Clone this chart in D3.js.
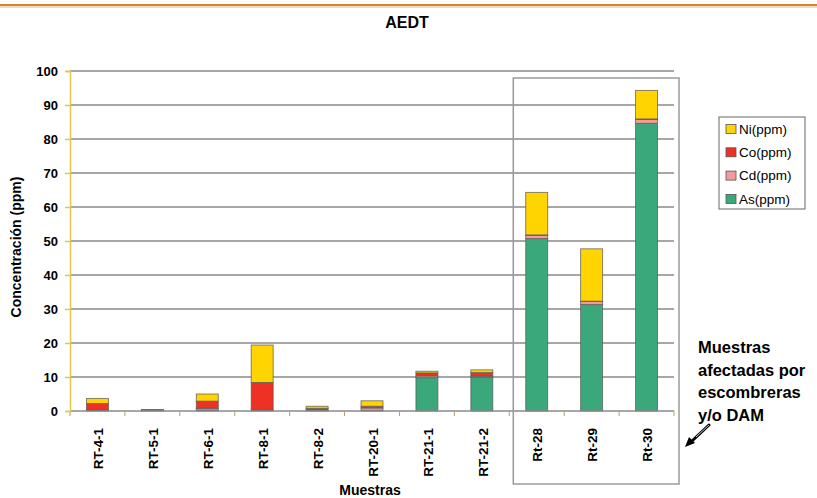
<!DOCTYPE html>
<html><head><meta charset="utf-8">
<script src="https://cdn.jsdelivr.net/npm/d3@7"></script>
<style>body{margin:0;background:#fff;}svg{display:block;font-family:"Liberation Sans",Arial,sans-serif;}</style>
</head><body><svg id="c" width="817" height="498"></svg>
<script>
const categories = ["RT-4-1","RT-5-1","RT-6-1","RT-8-1","RT-8-2","RT-20-1","RT-21-1","RT-21-2","Rt-28","Rt-29","Rt-30"];
const seriesNames = ["As(ppm)","Cd(ppm)","Co(ppm)","Ni(ppm)"];
const asVals = [0.3, 0.3, 0.3, 0.3, 0.2, 0.2, 9.8, 10.0, 50.7, 31.3, 84.6];
const cdVals = [0.1, 0.0, 0.5, 0.0, 0.1, 0.7, 0.5, 0.3, 1.0, 0.9, 1.2];
const coVals = [1.8, 0.05, 2.1, 8.1, 0.5, 0.5, 0.9, 1.0, 0.1, 0.1, 0.1];
const niVals = [1.5, 0.05, 2.1, 11.0, 0.6, 1.6, 0.5, 0.8, 12.5, 15.4, 8.4];
const yTicks = [0,10,20,30,40,50,60,70,80,90,100];
const colors = {"As(ppm)":"#3aa87a","Cd(ppm)":"#f59a9a","Co(ppm)":"#ee3124","Ni(ppm)":"#ffd400"};
const legendOrder = ["Ni(ppm)","Co(ppm)","Cd(ppm)","As(ppm)"];
const title = "AEDT";
const yTitle = "Concentración (ppm)";
const xTitle = "Muestras";
const noteLines = ["Muestras","afectadas por","escombreras","y/o DAM"];

const svg = d3.select("#c");
const m = {l:70, r:143, t:71, b:87};
const W = 817, H = 498;
const pw = W - m.l - m.r, ph = H - m.t - m.b;

// top orange rule
svg.append("rect").attr("x",0).attr("y",6).attr("width",W).attr("height",2).attr("fill","#f3dcc0");
svg.append("rect").attr("x",0).attr("y",4).attr("width",W).attr("height",2).attr("fill","#d4862a");

svg.append("text").attr("x",407).attr("y",28).attr("text-anchor","middle")
  .attr("font-size",16).attr("font-weight","bold").text(title);

const x = d3.scaleBand().domain(categories).range([m.l, m.l+pw]).paddingInner(0.6).paddingOuter(0.3);
const xb = d3.scaleBand().domain(categories).range([m.l, m.l+pw]);
const y = d3.scaleLinear().domain([0,100]).range([m.t+ph, m.t]);

// gridlines
svg.append("g").selectAll("line").data(yTicks.filter(d=>d>0)).join("line")
  .attr("x1",m.l).attr("x2",m.l+pw).attr("y1",d=>y(d)).attr("y2",d=>y(d))
  .attr("stroke","#8a8a8a").attr("stroke-width",1.3);

// stacked bars
const rows = categories.map((c,i)=>({cat:c,"As(ppm)":asVals[i],"Cd(ppm)":cdVals[i],"Co(ppm)":coVals[i],"Ni(ppm)":niVals[i]}));
const stack = d3.stack().keys(seriesNames)(rows);
svg.append("g").selectAll("g").data(stack).join("g")
  .attr("fill",d=>colors[d.key])
  .selectAll("rect").data(d=>d).join("rect")
  .attr("x",d=>x(d.data.cat)).attr("width",x.bandwidth())
  .attr("y",d=>y(d[1])).attr("height",d=>Math.max(0,y(d[0])-y(d[1])))
  .attr("stroke","#5a5a5a").attr("stroke-width",0.9).attr("stroke-opacity",0.8);

// x axis
const xAxis = svg.append("g").attr("transform",`translate(0,${m.t+ph})`);
xAxis.append("line").attr("x1",m.l).attr("x2",m.l+pw).attr("stroke","#8a8a8a").attr("stroke-width",1.5);
xAxis.selectAll("line.t").data(categories.concat(["end"])).join("line").attr("class","t")
  .attr("x1",(d,i)=>m.l+i*xb.bandwidth()).attr("x2",(d,i)=>m.l+i*xb.bandwidth())
  .attr("y1",0).attr("y2",5).attr("stroke","#b8a060").attr("stroke-width",1);
xAxis.selectAll("text").data(categories).join("text")
  .attr("transform",d=>`translate(${xb(d)+xb.bandwidth()/2+1},17) rotate(-90)`)
  .attr("text-anchor","end").attr("dy","0.35em")
  .attr("font-size",13.5).attr("font-weight","bold").text(d=>d);

// y axis
const yAxis = d3.axisLeft(y).tickValues(yTicks).tickSize(5).tickPadding(6);
const ya = svg.append("g").attr("transform",`translate(${m.l},0)`).call(yAxis);
ya.select(".domain").attr("stroke","#e2c84a").attr("stroke-width",1.5);
ya.selectAll(".tick line").attr("stroke","#e2c84a").attr("stroke-width",1.5);
ya.selectAll(".tick text").attr("font-size",13).attr("font-weight","bold").attr("fill","#000")
  .attr("font-family","Liberation Sans, Arial, sans-serif").attr("x",-12);

svg.append("text").attr("transform",`translate(21,${m.t+ph/2+6}) rotate(-90)`)
  .attr("text-anchor","middle").attr("font-size",14).attr("font-weight","bold").text(yTitle);
svg.append("text").attr("x",m.l+pw/2-2).attr("y",495).attr("text-anchor","middle")
  .attr("font-size",14).attr("font-weight","bold").text(xTitle);

// highlight frame
const f0 = xb("Rt-28"), f1 = xb("Rt-30")+xb.bandwidth();
svg.append("rect").attr("x",f0+4).attr("y",78).attr("width",f1-f0+1).attr("height",406)
  .attr("fill","none").attr("stroke","#9a9a9a").attr("stroke-width",1.5);

// legend
const lg = svg.append("g").attr("transform","translate(719,117)");
lg.append("rect").attr("width",86).attr("height",92).attr("fill","#fff").attr("stroke","#666").attr("stroke-width",1);
legendOrder.forEach((k,i)=>{
  const g = lg.append("g").attr("transform",`translate(7,${12+i*23.3})`);
  g.append("rect").attr("x",0).attr("y",-4.5).attr("width",10).attr("height",9).attr("fill",colors[k]).attr("stroke","#555").attr("stroke-width",0.8);
  g.append("text").attr("x",13).attr("y",0).attr("dy","0.35em").attr("font-size",13.5).text(k);
});

// annotation
const nt = svg.append("text").attr("font-size",16.5).attr("font-weight","bold");
noteLines.forEach((t,i)=>nt.append("tspan").attr("x",698).attr("y",353+i*22.5).text(t));

// arrow
svg.append("line").attr("x1",709).attr("y1",425).attr("x2",692).attr("y2",441)
  .attr("stroke","#000").attr("stroke-width",3).attr("stroke-linecap","round");
svg.append("line").attr("x1",709).attr("y1",425).attr("x2",696).attr("y2",437)
  .attr("stroke","#fff").attr("stroke-width",0.8);
svg.append("path").attr("d","M685,447 L689,437 L695,443 Z").attr("fill","#000");
</script></body></html>
